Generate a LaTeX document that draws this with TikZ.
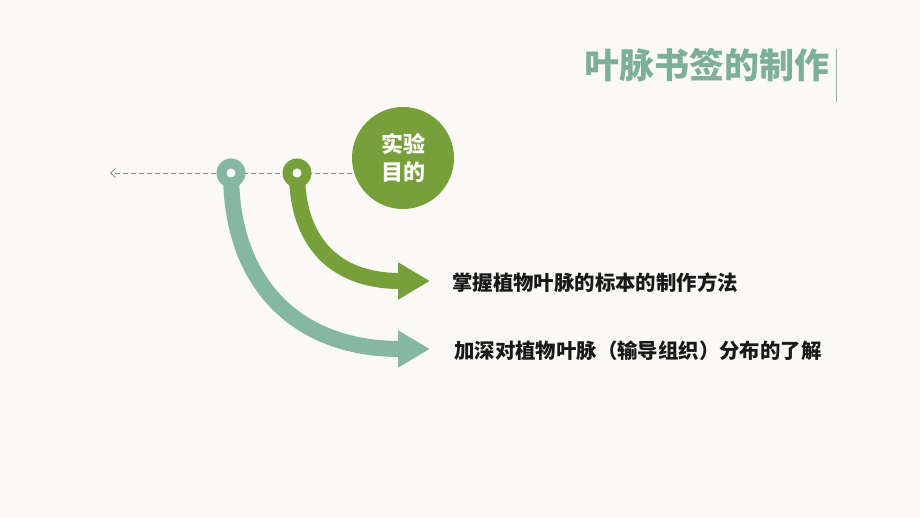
\documentclass[tikz,border=0pt]{standalone}
\usepackage{fontspec}
\newfontfamily\cjk{Noto Sans CJK SC}
\usetikzlibrary{arrows.meta}
\definecolor{bgc}{HTML}{FAF9F5}
\definecolor{leafgreen}{HTML}{77A03A}
\definecolor{leafteal}{HTML}{86B6A4}
\definecolor{titlec}{HTML}{7DAF9B}
\definecolor{rulec}{HTML}{8FB5A8}
\definecolor{dashc}{HTML}{8A8A8A}
\pgfdeclarelayer{bglayer}
\pgfdeclarelayer{midlayer}
\pgfsetlayers{bglayer,midlayer,main}
\tikzset{
  ringnode/.style={circle, minimum size=29pt, inner sep=0pt, fill=#1},
  holenode/.style={circle, minimum size=9pt, inner sep=0pt, fill=white},
  bandarrow/.style={line width=16pt, draw=#1, -{Triangle[length=32pt,width=35pt]}},
  itemtext/.style={anchor=west, inner sep=0pt, text=black!90, font=\cjk\bfseries\fontsize{20.4}{24}\selectfont},
}
\begin{document}
\begin{tikzpicture}[x=1pt,y=-1pt]
\begin{pgfonlayer}{bglayer}
\fill[bgc] (0,0) rectangle (920,518);
\end{pgfonlayer}
\path[use as bounding box] (0,0) rectangle (920,518);

% title
\node[inner sep=0pt, text=titlec, font=\cjk\bfseries\fontsize{35}{40}\selectfont] (title) at (707,65) {叶脉书签的制作};
\coordinate (ruletop) at (836.5,49);
\coordinate (rulebot) at (836.5,102);
\draw[rulec, line width=1.5pt] (ruletop) -- (rulebot);

% big circle
\node[circle, fill=leafgreen, minimum size=102pt, inner sep=0pt, align=center, text=white,
      font=\cjk\bfseries\fontsize{22}{28}\selectfont] (goal) at (403,158) {实验\\目的};

% rings
\node[ringnode=leafteal] (ringA) at (231,173) {};
\node[holenode] (holeA) at (ringA.center) {};
\node[ringnode=leafgreen] (ringB) at (297,173) {};
\node[holenode] (holeB) at (ringB.center) {};

% tips and texts
\coordinate (tipB) at (430,281);
\coordinate (tipA) at (430,349);
\coordinate (dashend) at (110,173);
\node[itemtext] (t1) at (452,283) {掌握植物叶脉的标本的制作方法};
\node[itemtext] (t2) at (454,351) {加深对植物叶脉（输导组织）分布的了解};

\begin{pgfonlayer}{midlayer}
\draw[dashc, line width=0.8pt, dash pattern=on 5pt off 3pt, -{Straight Barb[length=5pt,width=9pt]}]
  (goal.west |- ringA.center) -- (dashend);
\draw[bandarrow=leafgreen] (ringB.center) .. controls (297,240) and (333,281) .. (tipB);
\draw[bandarrow=leafteal] (ringA.center) .. controls (231,282) and (295,349) .. (tipA);
\end{pgfonlayer}
\end{tikzpicture}
\end{document}
